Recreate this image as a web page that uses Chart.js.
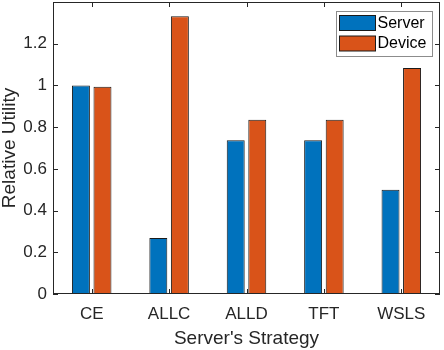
<!DOCTYPE html>
<html>
<head>
<meta charset="utf-8">
<script src="https://cdn.jsdelivr.net/npm/chart.js@4/dist/chart.umd.min.js"></script>
<style>
  html, body { margin: 0; padding: 0; background: #fff; }
  #wrap { width: 444px; height: 350px; }
</style>
</head>
<body>
<div id="wrap"><canvas id="grafica"></canvas></div>
<script>
const strategies = ["CE", "ALLC", "ALLD", "TFT", "WSLS"]
const serverValues = [1.0, 0.269, 0.737, 0.737, 0.50]
const deviceValues = [0.994, 1.332, 0.835, 0.836, 1.084]
const yTicks = [0, 0.2, 0.4, 0.6, 0.8, 1, 1.2]

const ink = "#262626"
const ctx = document.getElementById("grafica")

// matlab style box with ticks pointing inward
const boxPlugin = {
    id: "box",
    afterDraw(chart) {
        const c = chart.ctx
        const a = chart.chartArea
        const x = chart.scales.x
        const y = chart.scales.y
        c.save()
        c.strokeStyle = ink
        c.lineWidth = 1
        c.strokeRect(a.left + 0.5, a.top + 0.5, a.right - a.left - 1, a.bottom - a.top - 1)
        c.beginPath()
        yTicks.forEach(v => {
            const py = Math.round(y.getPixelForValue(v)) + 0.5
            c.moveTo(a.left, py); c.lineTo(a.left + 5, py)
            c.moveTo(a.right, py); c.lineTo(a.right - 5, py)
        })
        strategies.forEach((s, i) => {
            const px = Math.round(x.getPixelForValue(i)) + 0.5
            c.moveTo(px, a.bottom); c.lineTo(px, a.bottom - 5)
            c.moveTo(px, a.top); c.lineTo(px, a.top + 5)
        })
        c.stroke()

        // legend box in the upper right corner
        const bx = 336.5, by = 11.5, bw = 96, bh = 45
        c.fillStyle = "#fff"
        c.fillRect(bx, by, bw, bh)
        c.strokeStyle = "#8c8c8c"
        c.strokeRect(bx, by, bw, bh)
        c.font = "16px 'Liberation Sans', Arial, sans-serif"
        c.textBaseline = "middle"
        chart.data.datasets.forEach((ds, i) => {
            const sy = by + 4 + i * 20.5
            c.fillStyle = ds.backgroundColor
            c.fillRect(bx + 3, sy, 36, 15)
            c.strokeStyle = "#1a1a1a"
            c.strokeRect(bx + 3, sy, 36, 15)
            c.fillStyle = "#000"
            c.fillText(ds.label, bx + 41, sy + 8)
        })
        c.restore()
    }
}

let grafico = new Chart(ctx, {
    type: "bar",
    data: {
        labels: strategies,
        datasets: [
            {
                label: "Server",
                data: serverValues,
                backgroundColor: "#0072BD",
                borderColor: "#1a1a1a",
                borderWidth: 1,
                borderSkipped: false,
                categoryPercentage: 0.557,
                barPercentage: 0.833
            },
            {
                label: "Device",
                data: deviceValues,
                backgroundColor: "#D95319",
                borderColor: "#1a1a1a",
                borderWidth: 1,
                borderSkipped: false,
                categoryPercentage: 0.557,
                barPercentage: 0.833
            }
        ]
    },
    options: {
        responsive: true,
        maintainAspectRatio: false,
        animation: false,
        events: [],
        layout: { padding: { left: 0, right: 4, top: 2, bottom: 0 } },
        plugins: {
            legend: { display: false },
            tooltip: { enabled: false }
        },
        scales: {
            x: {
                grid: { display: false, drawTicks: false },
                border: { display: false },
                ticks: {
                    color: ink,
                    padding: 10,
                    maxRotation: 0,
                    font: { family: "'Liberation Sans', Arial, sans-serif", size: 17 }
                },
                title: {
                    display: true,
                    text: "Server's Strategy",
                    color: ink,
                    padding: 0,
                    font: { family: "'Liberation Sans', Arial, sans-serif", size: 19 }
                },
                afterFit: scale => {
                    scale.height = 56
                    scale.paddingLeft = 0
                    scale.paddingRight = 0
                }
            },
            y: {
                min: 0,
                max: 1.4,
                grid: { display: false, drawTicks: false },
                border: { display: false },
                afterBuildTicks: scale => { scale.ticks = yTicks.map(v => ({ value: v })) },
                ticks: {
                    color: ink,
                    padding: 6,
                    callback: v => String(Math.round(v * 10) / 10),
                    font: { family: "'Liberation Sans', Arial, sans-serif", size: 17 }
                },
                title: {
                    display: true,
                    text: "Relative Utility",
                    color: ink,
                    padding: 0,
                    font: { family: "'Liberation Sans', Arial, sans-serif", size: 19, lineHeight: 1 }
                },
                afterFit: scale => {
                    scale.width = 53
                    scale.paddingTop = 0
                    scale.paddingBottom = 0
                }
            }
        }
    },
    plugins: [boxPlugin]
})
</script>
</body>
</html>
